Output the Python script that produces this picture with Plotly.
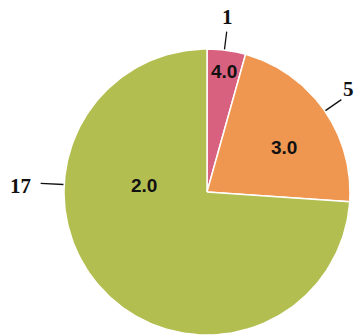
import numpy as np
import plotly.graph_objects as go

# Slice data
values = [1, 5, 17]
inner_labels = ["4.0", "3.0", "2.0"]
colors = ["#d8617f", "#ef9650", "#b3be50"]

# Layout: pie centre/radius in pixels on a 354x335 canvas
W, H = 354, 335
CX, CY, R = 207, 192, 143
START_DEG = 90  # first slice starts at 12 o'clock, going clockwise

# Label placement (angle in degrees, radius as fraction of pie radius)
inner_pos = [(82, 0.85), (30, 0.62), (174, 0.44)]
line_angles = [83, 34.5, 177]
line_r0 = [1.005, 1.005, 1.005]
line_r1 = [1.13, 1.14, 1.165]
outer_pos = [(83.3, 1.23), (37.6, 1.185), (178, 1.22)]
outer_anchor = ["center", "left", "right"]

fig = go.Figure()

total = float(sum(values))
angle = START_DEG
for v, c in zip(values, colors):
    sweep = 360.0 * v / total
    th = np.radians(np.linspace(angle, angle - sweep, 200))
    xs = np.concatenate([[0.0], np.cos(th), [0.0]])
    ys = np.concatenate([[0.0], np.sin(th), [0.0]])
    fig.add_trace(go.Scatter(
        x=xs, y=ys, mode="lines", fill="toself", fillcolor=c,
        line=dict(color="white", width=1.5), hoverinfo="skip",
        showlegend=False,
    ))
    angle -= sweep

# Inside value labels
for txt, (a, r) in zip(inner_labels, inner_pos):
    t = np.radians(a)
    fig.add_annotation(
        x=r * np.cos(t), y=r * np.sin(t), text=f"<b>{txt}</b>",
        showarrow=False, xanchor="center", yanchor="middle",
        font=dict(family="Liberation Sans", size=19, color="#111111"),
    )

# Outside labels with leader lines
for v, a, r0, r1, (la, lr), anc in zip(values, line_angles, line_r0, line_r1,
                                        outer_pos, outer_anchor):
    t = np.radians(a)
    fig.add_shape(
        type="line",
        x0=r0 * np.cos(t), y0=r0 * np.sin(t),
        x1=r1 * np.cos(t), y1=r1 * np.sin(t),
        line=dict(color="#111111", width=1.3),
    )
    lt = np.radians(la)
    fig.add_annotation(
        x=lr * np.cos(lt), y=lr * np.sin(lt), text=f"<b>{v}</b>",
        showarrow=False, xanchor=anc, yanchor="middle",
        font=dict(family="Liberation Serif", size=21, color="#111111"),
    )

fig.update_layout(
    width=W, height=H,
    margin=dict(l=0, r=0, t=0, b=0),
    paper_bgcolor="white", plot_bgcolor="white",
    xaxis=dict(range=[-CX / R, (W - CX) / R], visible=False, fixedrange=True),
    yaxis=dict(range=[-(H - CY) / R, CY / R], visible=False, fixedrange=True),
    showlegend=False,
)

fig.write_html("out.html")
